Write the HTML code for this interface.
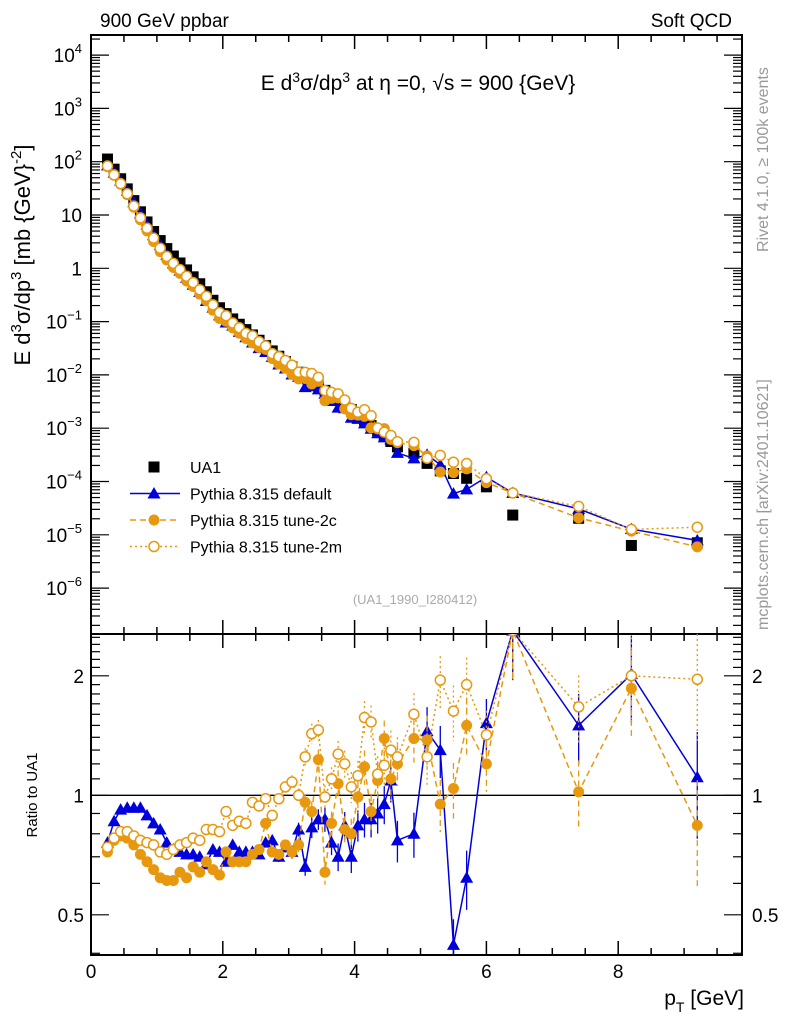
<!DOCTYPE html>
<html><head><meta charset="utf-8">
<style>
html,body{margin:0;padding:0;background:#fff;}
svg{display:block;font-family:"Liberation Sans",sans-serif;}
</style></head>
<body>
<svg id="chart" width="786" height="1024" viewBox="0 0 786 1024" xmlns="http://www.w3.org/2000/svg">
<text x="100" y="27" font-size="19">900 GeV ppbar</text>
<text x="732" y="27" font-size="19" text-anchor="end">Soft QCD</text>
<text transform="translate(768,252) rotate(-90)" font-size="16" fill="#999">Rivet 4.1.0, ≥ 100k events</text>
<text transform="translate(768,630) rotate(-90)" font-size="16" fill="#999">mcplots.cern.ch [arXiv:2401.10621]</text>
<text x="418" y="90" font-size="21" text-anchor="middle">E   d<tspan dy="-8" font-size="14">3</tspan><tspan dy="8">σ/dp</tspan><tspan dy="-8" font-size="14">3</tspan><tspan dy="8"> at η =0, √s = 900 {GeV}</tspan></text>
<text transform="translate(30,255) rotate(-90)" font-size="22" text-anchor="middle">E d<tspan dy="-9" font-size="15">3</tspan><tspan dy="9">σ/dp</tspan><tspan dy="-9" font-size="15">3</tspan><tspan dy="9"> [mb {GeV}</tspan><tspan dy="-9" font-size="15">-2</tspan><tspan dy="9">]</tspan></text>
<text transform="translate(37,795) rotate(-90)" font-size="15" text-anchor="middle">Ratio to UA1</text>
<text x="744" y="1005" font-size="21" text-anchor="end">p<tspan dy="7" font-size="14">T</tspan><tspan dy="-7"> [GeV]</tspan></text>
<text x="415" y="604" font-size="13" fill="#aaa" text-anchor="middle">(UA1_1990_I280412)</text>
<g id="main"></g>
<g id="ratio"></g>
<g id="legend"></g>
</svg>
<script>
// ---------- data ----------
const pT = [0.25,0.35,0.45,0.55,0.65,0.75,0.85,0.95,1.05,1.15,1.25,1.35,1.45,1.55,1.65,1.75,1.85,1.95,2.05,2.15,2.25,2.35,2.45,2.55,2.65,2.75,2.85,2.95,3.05,3.15,3.25,3.35,3.45,3.55,3.65,3.75,3.85,3.95,4.05,4.15,4.25,4.35,4.45,4.55,4.65,
  4.9,5.1,5.3,5.5,5.7,6.0,6.4,7.4,8.2,9.2];
const ua1Log10 = [2.05,1.86,1.68,1.49,1.27,1.06,0.87,0.69,0.52,0.37,0.23,0.10,-0.03,-0.16,-0.29,-0.44,-0.60,-0.74,-0.85,-0.95,-1.05,-1.15,-1.25,-1.35,-1.45,-1.55,-1.65,-1.75,-1.85,-1.95,-2.05,-2.13,-2.21,-2.29,-2.37,-2.46,-2.55,-2.65,-2.75,-2.85,-2.95,-3.05,-3.15,-3.25,-3.35,
  -3.47,-3.66,-3.80,-3.85,-3.94,-4.10,-4.63,-4.69,-5.20,-5.15];
const ratioDefault = [0.76,0.86,0.92,0.93,0.93,0.93,0.89,0.85,0.82,0.76,0.73,0.72,0.71,0.71,0.70,0.67,0.73,0.72,0.68,0.75,0.72,0.72,0.72,0.71,0.76,0.77,0.70,0.74,0.72,0.82,0.66,0.83,0.87,0.87,0.76,0.70,0.84,0.70,0.84,0.87,0.87,0.90,0.95,1.09,0.77,
  0.80,1.45,1.30,0.42,0.62,1.52,2.60,1.50,2.02,1.11];
const ratio2c = [0.72,0.77,0.79,0.78,0.75,0.71,0.68,0.65,0.62,0.61,0.61,0.64,0.62,0.66,0.64,0.68,0.65,0.63,0.72,0.68,0.68,0.68,0.71,0.73,0.85,0.72,0.71,0.75,0.72,0.75,0.96,0.91,1.23,0.64,0.85,1.07,0.82,0.80,0.99,1.18,0.91,1.09,1.39,1.10,1.20,
  1.39,1.38,0.95,1.04,1.50,1.20,2.60,1.02,1.86,0.84];
const ratio2m = [0.74,0.78,0.81,0.81,0.79,0.77,0.76,0.75,0.72,0.71,0.73,0.75,0.76,0.78,0.77,0.82,0.82,0.81,0.91,0.84,0.86,0.85,0.96,0.94,0.98,0.89,0.98,1.05,1.08,1.00,1.25,1.43,1.46,0.99,1.10,1.27,1.20,1.05,1.12,1.57,1.53,1.13,1.19,1.30,1.25,
  1.60,1.25,1.95,1.63,1.90,1.42,2.60,1.67,2.00,1.96];
const relErr = [0,0,0,0,0,0,0,0,0,0,0,0,0,0,0,0,0,0,0,0,0,0,0,0,0.02,0.02,0.03,0.03,0.04,0.04,0.05,0.06,0.06,0.07,0.07,0.08,0.08,0.09,0.09,0.1,0.1,0.11,0.11,0.12,0.12,
  0.13,0.15,0.15,0.16,0.17,0.15,0.25,0.20,0.25,0.30];
const xTicks = [0,2,4,6,8];
const yMainTicks = [["10","4"],["10","3"],["10","2"],["10",""],["1",""],["10","−1"],["10","−2"],["10","−3"],["10","−4"],["10","−5"],["10","−6"]];
const yMainExp = [4,3,2,1,0,-1,-2,-3,-4,-5,-6];
const yRatioTicks = [2,1,0.5];

// ---------- axes ----------
const L=91,R=742,T=35,MB=634,RB=955;
const X0=91, XS=65.9;
const xs = v => X0 + v*XS;
const ys = lg => 268.3 - 53.3*lg;
const yr = r => 795.3 - 119.5*Math.log2(r);
const NS="http://www.w3.org/2000/svg";
function mk(parent,tag,attrs){const e=document.createElementNS(NS,tag);for(const k in attrs)e.setAttribute(k,attrs[k]);parent.appendChild(e);return e;}
const main=document.getElementById('main'), ratio=document.getElementById('ratio'), leg=document.getElementById('legend');

let f1=mk(main,'rect',{x:L,y:T,width:R-L,height:MB-T,fill:'none',stroke:'#000','stroke-width':2});


let f2=mk(ratio,'rect',{x:L,y:MB,width:R-L,height:RB-MB,fill:'none',stroke:'#000','stroke-width':2});



for(let v=0;v<=9.8;v+=0.5){
  const major = Math.abs(v%2)<1e-6;
  const len = major?14:7;
  const x=xs(v);
  [[T,1],[MB,-1],[MB,1],[RB,-1]].forEach(([y0,d])=>{
    const t=mk(main,'line',{x1:x,x2:x,y1:y0,y2:y0+d*len,stroke:'#000','stroke-width':1.5});
    
    
  });
}
xTicks.forEach(v=>{
  const t=mk(ratio,'text',{x:xs(v),y:978,'font-size':19,'text-anchor':'middle'});
  t.textContent=String(v);
  
  
});
for(let e=-7;e<=4;e++){
  for(let m=1;m<10;m++){
    const lg=e+Math.log10(m);
    if(lg<-6.86||lg>4.38)continue;
    const y=ys(lg), len=m===1?18:9;
    [[L,1],[R,-1]].forEach(([x0,d])=>{
      const t=mk(main,'line',{x1:x0,x2:x0+d*len,y1:y,y2:y,stroke:'#000','stroke-width':1.2});
      
      
    });
  }
}
yMainTicks.forEach((lab,i)=>{
  const t=mk(main,'text',{x:82,y:ys(yMainExp[i])+7,'font-size':19,'text-anchor':'end'});
  
  
  if(lab[1]){
    const a=mk(t,'tspan',{}); a.textContent=lab[0];
    const b=mk(t,'tspan',{dy:-9,'font-size':13}); b.textContent=lab[1];
  } else t.textContent=lab[0];
});
for(let r=0.4;r<=2.55;r+=0.1){
  const y=yr(r); if(y<MB||y>RB)continue;
  const major=[0.5,1,2].some(v=>Math.abs(v-r)<1e-6);
  const len=major?18:9;
  [[L,1],[R,-1]].forEach(([x0,d])=>{
    const t=mk(ratio,'line',{x1:x0,x2:x0+d*len,y1:y,y2:y,stroke:'#000','stroke-width':1.2});
    
    
  });
}
yRatioTicks.forEach(v=>{
  [[84,'end'],[752,'start']].forEach(([x,a])=>{
    const t=mk(ratio,'text',{x:x,y:yr(v)+7,'font-size':19,'text-anchor':a});
    t.textContent=String(v);
    
    
  });
});
let one=mk(ratio,'line',{x1:L,x2:R,y1:yr(1),y2:yr(1),stroke:'#000','stroke-width':1.3});



const defs=mk(document.getElementById('chart'),'defs',{});
const c1=mk(defs,'clipPath',{id:'cm'}); mk(c1,'rect',{x:L,y:T,width:R-L,height:MB-T});
const c2=mk(defs,'clipPath',{id:'cr'}); mk(c2,'rect',{x:L,y:MB,width:R-L,height:RB-MB});

function marker(g,kind,x,y,color,name){
  let e;
  if(kind==='square') e=mk(g,'rect',{x:x-5.5,y:y-5.5,width:11,height:11,fill:color});
  else if(kind==='tri') e=mk(g,'polygon',{points:`${x},${y-6.5} ${x-6.5},${y+5} ${x+6.5},${y+5}`,fill:color});
  else if(kind==='dot') e=mk(g,'circle',{cx:x,cy:y,r:5.5,fill:color});
  else e=mk(g,'circle',{cx:x,cy:y,r:5,fill:'#fff',stroke:color,'stroke-width':1.5});
  
  
}
const series=[
  {ratio:ratioDefault,color:'#0000dd',kind:'tri',dash:'',name:'pythia-default'},
  {ratio:ratio2c,color:'#e8980e',kind:'dot',dash:'6,4',name:'pythia-tune-2c'},
  {ratio:ratio2m,color:'#e8980e',kind:'ring',dash:'2,3',name:'pythia-tune-2m'}
];
const gm=mk(main,'g',{'clip-path':'url(#cm)'});
const gr=mk(ratio,'g',{'clip-path':'url(#cr)'});
pT.forEach((p,i)=>marker(gm,'square',xs(p),ys(ua1Log10[i]),'#000','ua1-point'));
series.forEach(s=>{
  const ptsM=pT.map((p,i)=>[xs(p),ys(ua1Log10[i]+Math.log10(s.ratio[i]))]);
  const ptsR=pT.map((p,i)=>[xs(p),yr(s.ratio[i])]);
  const l1=mk(gm,'polyline',{points:ptsM.map(q=>q.join(',')).join(' '),fill:'none',stroke:s.color,'stroke-width':1.5,'stroke-dasharray':s.dash});
  
  
  const l2=mk(gr,'polyline',{points:ptsR.map(q=>q.join(',')).join(' '),fill:'none',stroke:s.color,'stroke-width':1.5,'stroke-dasharray':s.dash});
  
  
  pT.forEach((p,i)=>{
    const e=relErr[i]*s.ratio[i];
    if(e>0){
      const x=xs(p), y1=yr(s.ratio[i]+e), y2=yr(Math.max(0.3,s.ratio[i]-e));
      const b=mk(gr,'line',{x1:x,x2:x,y1:y1,y2:y2,stroke:s.color,'stroke-width':1.3,'stroke-dasharray':s.dash});
      
      
    }
    marker(gm,s.kind,ptsM[i][0],ptsM[i][1],s.color,s.name+'-point');
    marker(gr,s.kind,ptsR[i][0],ptsR[i][1],s.color,s.name+'-ratio-point');
  });
});
const legItems=[['square','#000','','UA1'],['tri','#0000dd','','Pythia 8.315 default'],['dot','#e8980e','6,4','Pythia 8.315 tune-2c'],['ring','#e8980e','2,3','Pythia 8.315 tune-2m']];
legItems.forEach((it,i)=>{
  const y=467+i*26.5;
  if(i>0){
    const l=mk(leg,'line',{x1:130,x2:180,y1:y,y2:y,stroke:it[1],'stroke-width':1.5,'stroke-dasharray':it[2]});
    
    
  }
  marker(leg,it[0],154,y,it[1],'legend-marker');
  const t=mk(leg,'text',{x:190,y:y+6,'font-size':16});
  t.textContent=it[3];
  
  
});
</script>
</body></html>
